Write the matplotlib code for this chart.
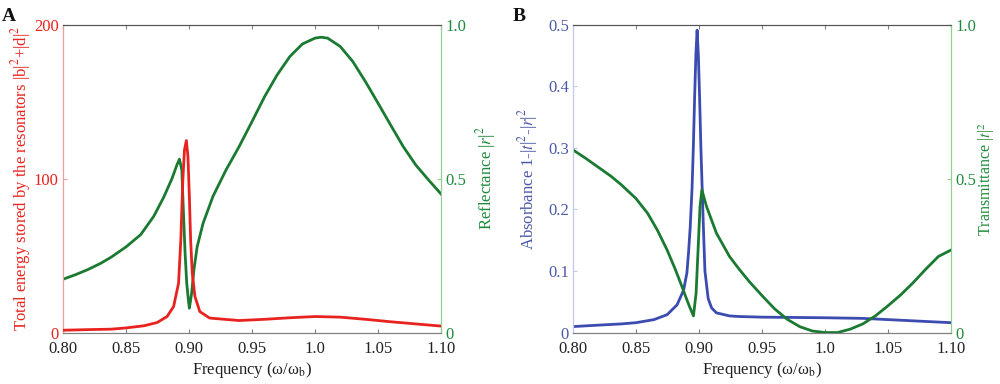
import matplotlib
matplotlib.use("Agg")
import matplotlib.pyplot as plt

plt.rcParams['font.family'] = ['Liberation Serif', 'DejaVu Serif']
plt.rcParams['mathtext.fontset'] = 'stix'

# ---- Panel A data ----
fA_red = [0.80, 0.82, 0.8383, 0.85, 0.8643, 0.8747, 0.8826, 0.8878, 0.8917, 0.8935, 0.8951,
          0.8964, 0.8979, 0.8992, 0.9003, 0.9013, 0.9026, 0.9047, 0.9086, 0.9164, 0.9398,
          0.96, 0.98, 1.00, 1.02, 1.04, 1.06, 1.08, 1.10]
energy = [1.5, 1.9, 2.2, 3.0, 4.4, 6.5, 10.4, 16.9, 32, 60, 99,
          118.6, 124.7, 114, 88, 60, 38.6, 23.4, 13.6, 9.4, 7.8,
          8.6, 9.6, 10.4, 10.0, 8.6, 7.0, 5.6, 4.2]

fA_green = [0.80, 0.81, 0.82, 0.83, 0.8383, 0.85, 0.8617, 0.8721, 0.88, 0.8865, 0.8904,
            0.8924, 0.8943, 0.8956, 0.8969, 0.8982, 0.8995, 0.9003, 0.9021, 0.9039, 0.9065,
            0.9112, 0.919, 0.9294, 0.9398, 0.95, 0.96, 0.97, 0.98, 0.99, 1.00, 1.005, 1.01,
            1.02, 1.03, 1.04, 1.05, 1.06, 1.07, 1.08, 1.09, 1.10]
reflectance = [0.173, 0.188, 0.205, 0.225, 0.245, 0.278, 0.318, 0.378, 0.440, 0.500, 0.544,
               0.563, 0.528, 0.388, 0.258, 0.160, 0.106, 0.079, 0.128, 0.204, 0.279,
               0.355, 0.442, 0.528, 0.604, 0.685, 0.766, 0.837, 0.896, 0.937, 0.956, 0.959, 0.956,
               0.929, 0.880, 0.815, 0.745, 0.674, 0.604, 0.544, 0.496, 0.450]

# ---- Panel B data ----
fB_blue = [0.80, 0.82, 0.8383, 0.85, 0.8643, 0.8747, 0.8826, 0.8878, 0.8904, 0.8917, 0.893,
           0.8945, 0.8955, 0.8965, 0.8975, 0.8985, 0.8995, 0.9005, 0.9015, 0.9025, 0.9035,
           0.9047, 0.9073, 0.91, 0.9138, 0.9242, 0.932, 0.95, 1.00, 1.03, 1.05, 1.08, 1.10]
absorbance = [0.0097, 0.012, 0.014, 0.016, 0.021, 0.029, 0.045, 0.069, 0.097, 0.13, 0.17,
              0.235, 0.30, 0.38, 0.45, 0.491, 0.45, 0.38, 0.30, 0.235, 0.17,
              0.10, 0.055, 0.040, 0.032, 0.027, 0.026, 0.025, 0.024, 0.023, 0.021, 0.018, 0.016]

fB_green = [0.80, 0.81, 0.82, 0.83, 0.8383, 0.85, 0.8591, 0.8669, 0.8747, 0.8813, 0.8865,
            0.8904, 0.893, 0.8956, 0.8977, 0.8995, 0.9008, 0.9023, 0.906, 0.9138, 0.9242,
            0.932, 0.94, 0.95, 0.96, 0.97, 0.98, 0.99, 1.00, 1.01, 1.02, 1.03, 1.04, 1.05,
            1.06, 1.07, 1.08, 1.09, 1.10]
transmittance = [0.593, 0.566, 0.537, 0.508, 0.480, 0.435, 0.388, 0.333, 0.268, 0.204, 0.149,
                 0.106, 0.079, 0.054, 0.128, 0.290, 0.409, 0.463, 0.409, 0.323, 0.247,
                 0.205, 0.165, 0.120, 0.077, 0.043, 0.019, 0.005, 0.0, 0.0, 0.011, 0.028, 0.054,
                 0.087, 0.122, 0.162, 0.206, 0.247, 0.268]

xticks = [0.80, 0.85, 0.90, 0.95, 1.00, 1.05, 1.10]
xticklabels = ['0.80', '0.85', '0.90', '0.95', '1.0', '1.05', '1.10']
A_lticks = [0, 100, 200]
A_lticklabels = ['0', '100', '200']
r_ticks = [0, 0.5, 1.0]
r_ticklabels = ['0', '0.5', '1.0']
B_lticks = [0, 0.1, 0.2, 0.3, 0.4, 0.5]
B_lticklabels = ['0', '0.1', '0.2', '0.3', '0.4', '0.5']

RED = '#e8231f'
RED_L = '#f39a9a'
GREEN = '#1b7a32'
GREEN_TXT = '#1f8a3c'
GREEN_L = '#8fd08f'
BLUE = '#3b4bb0'
BLUE_TXT = '#4a58a8'
BLUE_L = '#c4c8ea'
GRAY = '#808080'

FS_TICK = 12
FS_LAB = 12

fig = plt.figure(figsize=(10, 3.84), dpi=100)

def setup(ax, ax2, lticks, lticklabels, lcolor, lspine, ylab_left, ylab_right, lylim,
          lpad, rpad, rfs):
    ax.set_xlim(0.80, 1.10)
    ax.set_ylim(*lylim)
    ax2.set_ylim(0, 1.0)
    ax.set_xticks(xticks)
    ax.set_xticklabels(xticklabels)
    ax.set_yticks(lticks)
    ax.set_yticklabels(lticklabels)
    ax2.set_yticks(r_ticks)
    ax2.set_yticklabels(r_ticklabels)
    ax.tick_params(axis='x', direction='in', length=3, width=0.8, color=GRAY,
                   top=True, labelsize=FS_TICK, labelcolor='#222222', pad=6)
    ax.tick_params(axis='y', direction='in', length=3, width=0.8, color=lspine,
                   labelsize=FS_TICK, labelcolor=lcolor, pad=3)
    ax2.tick_params(axis='y', direction='in', length=3, width=0.8, color=GREEN_L,
                    labelsize=FS_TICK, labelcolor=GREEN_TXT, pad=3)
    for a in (ax, ax2):
        a.spines['top'].set_color('#555555')
        a.spines['bottom'].set_color(GRAY)
        a.spines['left'].set_color(lspine)
        a.spines['right'].set_color(GREEN_L)
        for s in a.spines.values():
            s.set_linewidth(0.8)
    ax.set_xlabel('Frequency (ω/ω$_\\mathrm{b}$)', fontsize=FS_LAB, color='#222222', labelpad=2)
    ax.set_ylabel(ylab_left, fontsize=FS_LAB, color=lcolor, labelpad=lpad)
    ax2.set_ylabel(ylab_right, fontsize=rfs, color=GREEN_TXT, labelpad=rpad)

# Panel A
axA = fig.add_axes([0.063, 0.134, 0.378, 0.802])
axA2 = axA.twinx()
axA2.plot(fA_green, reflectance, color=GREEN, lw=2.0, solid_joinstyle='round')
axA.plot(fA_red, energy, color=RED, lw=2.0, zorder=5, solid_joinstyle='round')
axA.set_zorder(axA2.get_zorder() + 1)
axA.patch.set_visible(False)
setup(axA, axA2, A_lticks, A_lticklabels, RED, RED_L,
      'Total energy stored by the resonators |b|$^2$+|d|$^2$',
      'Reflectance |$r$|$^2$', (0, 200), 1, 6, FS_LAB)

# Panel B
axB = fig.add_axes([0.573, 0.134, 0.378, 0.802])
axB2 = axB.twinx()
axB.plot(fB_blue, absorbance, color=BLUE, lw=2.0, solid_joinstyle='round')
axB2.plot(fB_green, transmittance, color=GREEN, lw=2.0, solid_joinstyle='round')
setup(axB, axB2, B_lticks, B_lticklabels, BLUE_TXT, BLUE_L,
      'Absorbance 1-|$t$|$^2$-|$r$|$^2$',
      'Transmittance |$t$|$^2$', (0, 0.5), 6, 0, 11.5)

fig.text(0.002, 0.978, 'A', fontsize=14, fontweight='bold', va='top', ha='left', color='#111111')
fig.text(0.513, 0.978, 'B', fontsize=14, fontweight='bold', va='top', ha='left', color='#111111')

fig.savefig('out.png', dpi=100)
